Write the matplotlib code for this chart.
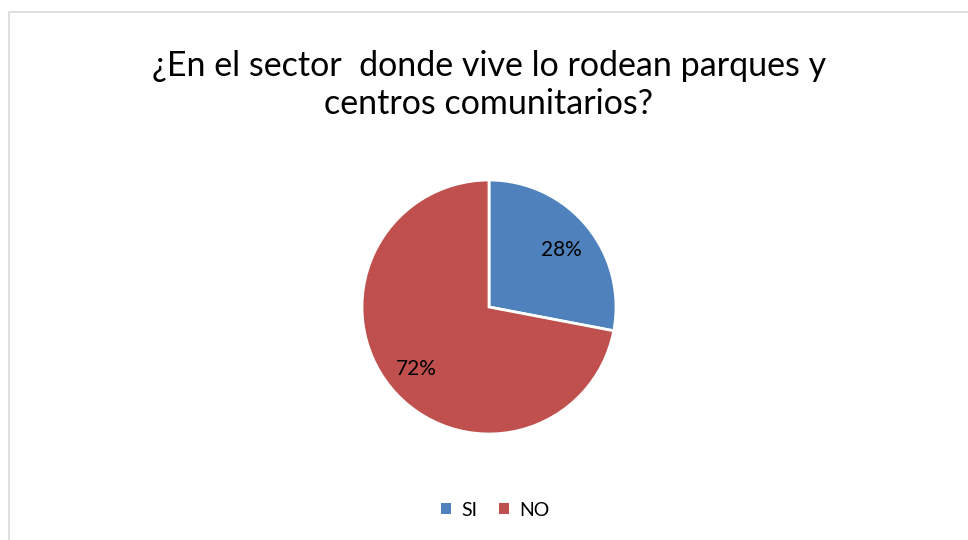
import matplotlib.pyplot as plt
import matplotlib.patches as mpatches

# data
labels = ['SI', 'NO']
values = [28, 72]
colors = ['#4F81BD', '#C0504D']
title = '¿En el sector  donde vive lo rodean parques y\ncentros comunitarios?'

plt.rcParams['font.family'] = ['Lato', 'DejaVu Sans']

fig = plt.figure(figsize=(9.68, 5.4), dpi=100)

# chart border
fig.patches.append(mpatches.Rectangle((9/968, -0.05), 1.2, 1 - 12/540 + 0.05,
                                      transform=fig.transFigure, fill=False,
                                      edgecolor='#D9D9D9', lw=1.2))

fig.text(489/968, 1 - 85/540, title, ha='center', va='center',
         fontsize=24.5, linespacing=1.25, color='black')

r = 127
cx, cy = 489, 307
ax = fig.add_axes([(cx - r) / 968, 1 - (cy + r) / 540, 2 * r / 968, 2 * r / 540])
wedges, texts, autotexts = ax.pie(values, colors=colors, startangle=90, counterclock=False,
                                  autopct='%1.0f%%', pctdistance=0.74,
                                  wedgeprops=dict(edgecolor='white', linewidth=2),
                                  textprops=dict(fontsize=15, color='black'))
for t in autotexts:
    x, y = t.get_position()
    t.set_position((x, y - 0.02))
ax.set_xlim(-1, 1)
ax.set_ylim(-1, 1)
ax.set_aspect('equal')
ax.axis('off')

handles = [mpatches.Patch(facecolor=c, label=l) for c, l in zip(colors, labels)]
fig.legend(handles=handles, loc='center', bbox_to_anchor=(495/968, 1 - 510/540), ncol=2,
           frameon=False, fontsize=14, handlelength=0.55, handleheight=0.55,
           handletextpad=0.5, columnspacing=1.1)

plt.savefig('out.png', dpi=100)
plt.close()
